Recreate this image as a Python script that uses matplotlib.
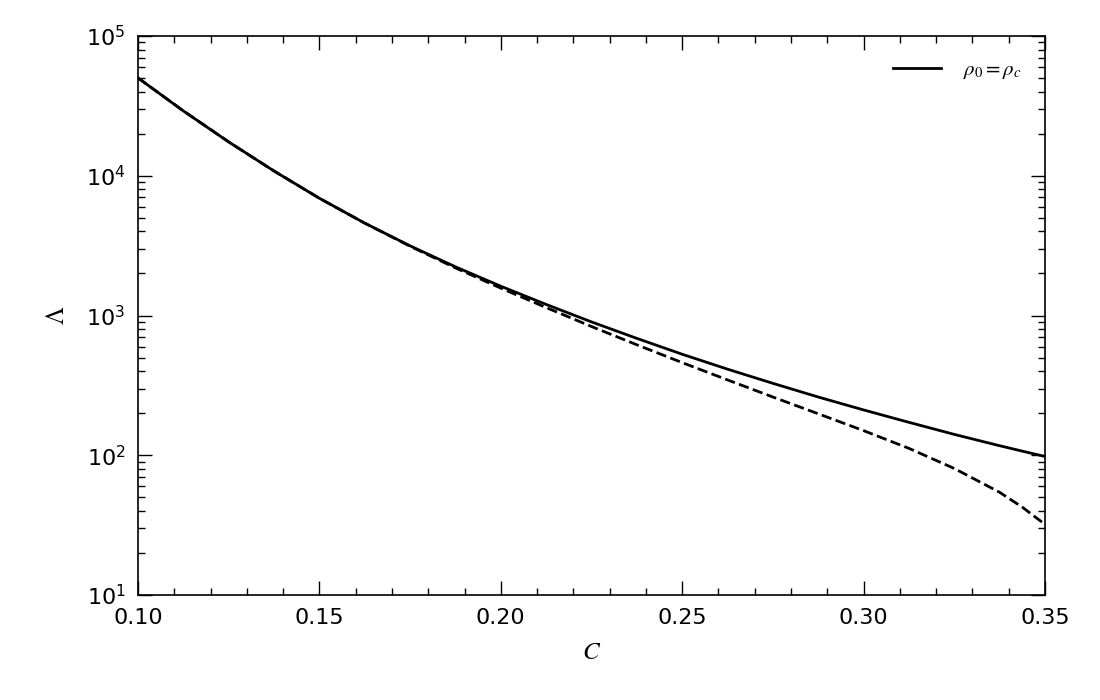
import numpy as np
import matplotlib
matplotlib.use("Agg")
import matplotlib.pyplot as plt
from matplotlib.ticker import MultipleLocator, LogLocator, NullFormatter, FormatStrFormatter

# Compactness C and tidal deformability Lambda
c_solid = [0.1000, 0.1125, 0.1250, 0.1375, 0.1500, 0.1625, 0.1750, 0.1875, 0.2000,
           0.2125, 0.2250, 0.2375, 0.2500, 0.2625, 0.2750, 0.2875, 0.3000, 0.3125,
           0.3250, 0.3375, 0.34375, 0.3500]
lam_solid = [50100, 29100, 17460, 10810, 6900, 4580, 3150, 2230, 1620,
             1200, 900, 686, 528, 413, 327, 261, 211, 172,
             141, 117, 107, 98]

c_dashed = [0.1000, 0.1125, 0.1250, 0.1375, 0.1500, 0.1625, 0.1750, 0.1875, 0.2000,
            0.2125, 0.2250, 0.2375, 0.2500, 0.2625, 0.2750, 0.2875, 0.3000, 0.3125,
            0.3250, 0.3375, 0.34375, 0.3500]
lam_dashed = [50100, 29100, 17460, 10810, 6900, 4580, 3130, 2190, 1570,
              1140, 834, 617, 460, 346, 261, 198, 150, 112,
              80.4, 54.3, 42.5, 32.0]

legend_label = r'$\rho_0=\rho_c$'

fig = plt.figure(figsize=(11, 7), dpi=100)
ax = fig.add_axes([138/1100, 1-595/700, (1045-138)/1100, (595-36)/700])

ax.plot(c_solid, lam_solid, color='black', lw=2, label=legend_label)
ax.plot(c_dashed, lam_dashed, color='black', lw=2, ls='--')

ax.set_yscale('log')
ax.set_xlim(0.10, 0.35)
ax.set_ylim(10, 1e5)

ax.xaxis.set_major_locator(MultipleLocator(0.05))
ax.xaxis.set_minor_locator(MultipleLocator(0.01))
ax.yaxis.set_major_locator(LogLocator(base=10, numticks=10))
ax.yaxis.set_minor_locator(LogLocator(base=10, subs=np.arange(2, 10), numticks=20))
ax.yaxis.set_minor_formatter(NullFormatter())
ax.xaxis.set_major_formatter(FormatStrFormatter('%.2f'))

ax.tick_params(which='both', direction='in', top=True, right=True, labelsize=16, width=1)
ax.tick_params(which='major', length=10, pad=9)
ax.tick_params(which='minor', length=5)
for s in ax.spines.values():
    s.set_linewidth(1.2)

ax.set_xlabel(r'$C$', fontsize=18, math_fontfamily='stix', labelpad=9)
ax.set_ylabel(r'$\Lambda$', fontsize=18, math_fontfamily='stix', labelpad=12)

leg = ax.legend(loc='upper right', frameon=False, fontsize=15, handlelength=2.3,
                handletextpad=1.1, borderaxespad=0.7)
for t in leg.get_texts():
    t.set_math_fontfamily('stix')

fig.savefig('out.png', dpi=100)
